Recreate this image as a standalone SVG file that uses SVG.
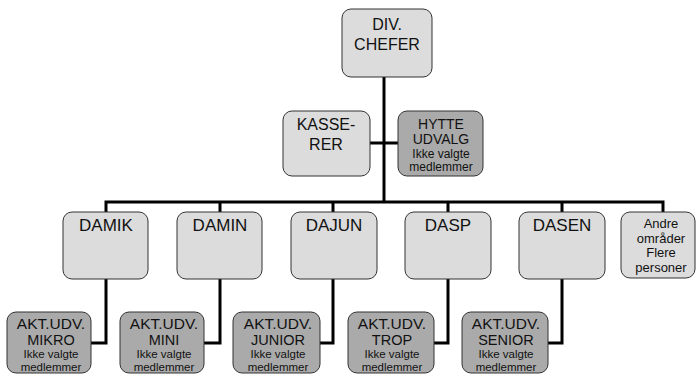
<svg xmlns="http://www.w3.org/2000/svg" width="697" height="374" viewBox="0 0 697 374">
<style>
.box{stroke:#333;stroke-width:1}
.lt{fill:#dcdcdc}
.dk{fill:#aaaaaa}
text{font-family:"Liberation Sans",Arial,sans-serif;fill:#111;text-anchor:middle}
.t17{font-size:17px}
.t16{font-size:16px}
.a1{font-size:15.5px}
.a2{font-size:14.5px}
.a3{font-size:11.5px}
.t14{font-size:14px}
.t13{font-size:13px}
.t12{font-size:12px}
.con{fill:none;stroke:#000;stroke-width:3}
</style>
<rect width="697" height="374" fill="#fff"/>
<g id="connectors">
<line class="con" x1="384" y1="77" x2="384" y2="202"/>
<line class="con" x1="370" y1="143" x2="398" y2="143"/>
<polyline class="con" points="106,212 106,202 663,202 663,212"/>
<line class="con" x1="220" y1="202" x2="220" y2="212"/>
<line class="con" x1="333" y1="202" x2="333" y2="212"/>
<line class="con" x1="448" y1="202" x2="448" y2="212"/>
<line class="con" x1="562" y1="202" x2="562" y2="212"/>
<polyline class="con" points="106,279 106,343 91,343"/>
<polyline class="con" points="220,279 220,343 204,343"/>
<polyline class="con" points="333,279 333,343 320,343"/>
<polyline class="con" points="448,279 448,343 434,343"/>
<polyline class="con" points="562,279 562,343 548,343"/>
</g>
<g id="divchefer">
<rect class="box lt" x="342" y="9" width="90" height="68" rx="9"/>
<text class="t16" x="387" y="30">DIV.</text>
<text class="t16" x="387" y="50">CHEFER</text>
</g>
<g id="kasserer">
<rect class="box lt" x="283" y="111" width="87" height="65" rx="9"/>
<text class="t16" x="326" y="130">KASSE-</text>
<text class="t16" x="326" y="150">RER</text>
</g>
<g id="hytteudvalg">
<rect class="box dk" x="398" y="111" width="85" height="65" rx="9"/>
<text class="t14" x="441" y="129">HYTTE</text>
<text class="t14" x="441" y="144">UDVALG</text>
<text class="t12" x="441" y="158">Ikke valgte</text>
<text class="t12" x="441" y="171">medlemmer</text>
</g>
<g id="damik">
<rect class="box lt" x="63" y="212" width="85" height="67" rx="9"/>
<text class="t17" x="106" y="231">DAMIK</text>
</g>
<g id="damin">
<rect class="box lt" x="177" y="212" width="85" height="67" rx="9"/>
<text class="t17" x="220" y="231">DAMIN</text>
</g>
<g id="dajun">
<rect class="box lt" x="291" y="212" width="86" height="67" rx="9"/>
<text class="t17" x="334" y="231">DAJUN</text>
</g>
<g id="dasp">
<rect class="box lt" x="405" y="212" width="86" height="67" rx="9"/>
<text class="t17" x="448" y="231">DASP</text>
</g>
<g id="dasen">
<rect class="box lt" x="519" y="212" width="86" height="67" rx="9"/>
<text class="t17" x="562" y="231">DASEN</text>
</g>
<g id="andre">
<rect class="box lt" x="621" y="212" width="74" height="66" rx="9"/>
<text class="t13" x="661" y="228">Andre</text>
<text class="t13" x="661" y="243">områder</text>
<text class="t13" x="661" y="257">Flere</text>
<text class="t13" x="661" y="272">personer</text>
</g>
<g id="mikro">
<rect class="box dk" x="7" y="312" width="84" height="61" rx="9"/>
<text class="a1" x="51" y="329">AKT.UDV.</text>
<text class="a2" x="51" y="345">MIKRO</text>
<text class="a3" x="51" y="358">Ikke valgte</text>
<text class="a3" x="51" y="371">medlemmer</text>
</g>
<g id="mini">
<rect class="box dk" x="120" y="312" width="84" height="61" rx="9"/>
<text class="a1" x="164" y="329">AKT.UDV.</text>
<text class="a2" x="164" y="345">MINI</text>
<text class="a3" x="164" y="358">Ikke valgte</text>
<text class="a3" x="164" y="371">medlemmer</text>
</g>
<g id="junior">
<rect class="box dk" x="233" y="312" width="87" height="61" rx="9"/>
<text class="a1" x="278" y="329">AKT.UDV.</text>
<text class="a2" x="278" y="345">JUNIOR</text>
<text class="a3" x="278" y="358">Ikke valgte</text>
<text class="a3" x="278" y="371">medlemmer</text>
</g>
<g id="trop">
<rect class="box dk" x="348" y="312" width="86" height="61" rx="9"/>
<text class="a1" x="392" y="329">AKT.UDV.</text>
<text class="a2" x="392" y="345">TROP</text>
<text class="a3" x="392" y="358">Ikke valgte</text>
<text class="a3" x="392" y="371">medlemmer</text>
</g>
<g id="senior">
<rect class="box dk" x="462" y="312" width="86" height="61" rx="9"/>
<text class="a1" x="506" y="329">AKT.UDV.</text>
<text class="a2" x="506" y="345">SENIOR</text>
<text class="a3" x="506" y="358">Ikke valgte</text>
<text class="a3" x="506" y="371">medlemmer</text>
</g>
</svg>
